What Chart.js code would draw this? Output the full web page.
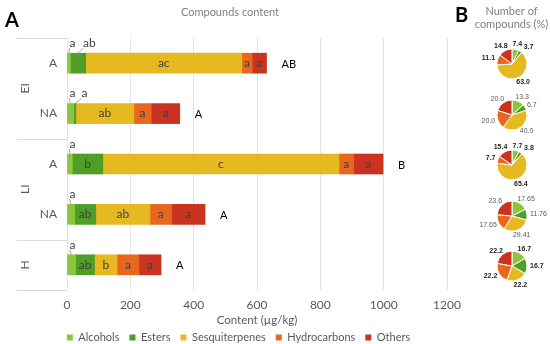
<!DOCTYPE html>
<html>
<head>
<meta charset="utf-8">
<script src="https://cdn.jsdelivr.net/npm/chart.js@4.4.1/dist/chart.umd.min.js"></script>
<style>
  html, body { margin: 0; padding: 0; background: #fff; }
  body { width: 550px; height: 344px; overflow: hidden; position: relative; }
  #main { position: absolute; left: 0; top: 0; }
  .pie { position: absolute; }
</style>
</head>
<body>
<canvas id="main" width="550" height="353"></canvas>
<script>
// データ（μg/kg）
const samples = ['EI A', 'EI NA', 'LI A', 'LI NA', 'H'];
const subLabels = ['A', 'NA', 'A', 'NA', ''];
const groups = ['EI', 'LI', 'H'];
const groupFirst = [0, 2, 4];
const groupLast = [1, 3, 4];
const compoundNames = ['Alcohols', 'Esters', 'Sesquiterpenes', 'Hydrocarbons', 'Others'];
const compoundColors = ['#8cc63e', '#4f9e27', '#e7b921', '#e8671c', '#c9331f'];

const alcohols = [11, 21, 17, 24, 27];
const esters = [48, 7, 96, 67, 60];
const sesquiterpenes = [493, 183, 746, 171, 71];
const hydrocarbons = [33, 55, 46, 68, 69];
const others = [45, 90, 93, 106, 70];

// 有意差の文字
const alcoholLetters = ['a', 'a', 'a', 'a', 'a'];
const esterLetters = ['ab', 'a', 'b', 'ab', 'ab'];
const sesqLetters = ['ac', 'ab', 'c', 'ab', 'b'];
const hydroLetters = ['a', 'a', 'a', 'a', 'a'];
const otherLetters = ['a', 'a', 'a', 'a', 'a'];
const totalLetters = ['AB', 'A', 'B', 'A', 'A'];

// 化合物数（%）
const pieEIA = ['7.4', '3.7', '63.0', '11.1', '14.8'];
const pieEINA = ['13.3', '6.7', '40.0', '20.0', '20.0'];
const pieLIA = ['7.7', '3.8', '65.4', '7.7', '15.4'];
const pieLINA = ['17.65', '11.76', '29.41', '17.65', '23.6'];
const pieH = ['16.7', '16.7', '22.2', '22.2', '22.2'];
const pieBold = [true, false, true, false, true];

const series = [alcohols, esters, sesquiterpenes, hydrocarbons, others];
const letterSets = [alcoholLetters, esterLetters, sesqLetters, hydroLetters, otherLetters];

const FONT = 'Lato, "Open Sans", sans-serif';
Chart.defaults.font.family = FONT;
Chart.defaults.font.size = 11;

// 文字・区切り線などの描画
const decor = {
  id: 'decor',
  afterDatasetsDraw(chart) {
    const ctx = chart.ctx;
    const area = chart.chartArea;
    const yScale = chart.scales.y;
    ctx.save();

    // タイトル類
    ctx.textBaseline = 'middle';
    ctx.fillStyle = '#000';
    ctx.font = 'bold 20px ' + FONT;
    ctx.textAlign = 'left';
    ctx.fillText('A', 5, 21);
    ctx.fillText('B', 455, 16);
    ctx.fillStyle = '#808080';
    ctx.font = '11px ' + FONT;
    ctx.textAlign = 'center';
    ctx.fillText('Compounds content', 230, 12);
    ctx.fillText('Number of', 511.5, 11);
    ctx.fillText('compounds (%)', 511.5, 24);

    // グループ区切り線
    ctx.strokeStyle = '#d9d9d9';
    ctx.lineWidth = 1;
    const edges = [area.top];
    groupLast.forEach((last, g) => {
      if (g < groupLast.length - 1) {
        edges.push((yScale.getPixelForValue(last) + yScale.getPixelForValue(last + 1)) / 2);
      }
    });
    edges.push(area.bottom);
    edges.forEach(e => {
      ctx.beginPath();
      ctx.moveTo(17, Math.round(e) + 0.5);
      ctx.lineTo(area.left, Math.round(e) + 0.5);
      ctx.stroke();
    });

    // グループ名（縦書き）とサブラベル
    ctx.fillStyle = '#595959';
    ctx.font = '12px ' + FONT;
    groups.forEach((g, k) => {
      const cy = (yScale.getPixelForValue(groupFirst[k]) + yScale.getPixelForValue(groupLast[k])) / 2;
      ctx.save();
      ctx.translate(25, cy);
      ctx.rotate(-Math.PI / 2);
      ctx.textAlign = 'center';
      ctx.fillText(g, 0, 0);
      ctx.restore();
    });
    ctx.textAlign = 'right';
    subLabels.forEach((s, i) => {
      ctx.fillText(s, area.left - 10, yScale.getPixelForValue(i));
    });

    // セグメントの文字（アルコール・エステルの細いものは上に出す）
    for (let i = 0; i < samples.length; i++) {
      let nextLeft = null;
      let end = 0;
      ctx.font = '12px ' + FONT;
      letterSets.forEach((letters, d) => {
        const bar = chart.getDatasetMeta(d).data[i];
        const left = Math.min(bar.x, bar.base);
        const right = Math.max(bar.x, bar.base);
        const top = bar.y - bar.height / 2;
        const mid = (left + right) / 2;
        end = Math.max(end, right);
        if (d > 1 || right - left >= 16) {
          ctx.fillStyle = '#404040';
          ctx.textAlign = 'center';
          ctx.fillText(letters[i], mid, bar.y);
        } else {
          const tw = ctx.measureText(letters[i]).width;
          const lx = nextLeft === null ? left + 2 : Math.max(nextLeft, mid + 5);
          nextLeft = lx + tw + 6;
          ctx.strokeStyle = '#a6a6a6';
          ctx.beginPath();
          ctx.moveTo(mid, top);
          ctx.lineTo(lx, top - 5);
          ctx.stroke();
          ctx.fillStyle = '#404040';
          ctx.textAlign = 'left';
          ctx.fillText(letters[i], lx, top - 10);
        }
      });
      ctx.fillStyle = '#000';
      ctx.textAlign = 'left';
      ctx.font = '11px ' + FONT;
      ctx.fillText(totalLetters[i], end + 15, yScale.getPixelForValue(i) + 1);
    }
    ctx.restore();
  }
};

new Chart(document.getElementById('main'), {
  type: 'bar',
  data: {
    labels: samples,
    datasets: compoundNames.map((name, d) => ({
      label: name,
      data: series[d],
      backgroundColor: compoundColors[d],
      borderWidth: 0,
      barThickness: 20
    }))
  },
  options: {
    indexAxis: 'y',
    responsive: false,
    animation: false,
    layout: { padding: { left: 30, right: 103, top: 38, bottom: 0 } },
    scales: {
      x: {
        stacked: true,
        min: 0,
        max: 1200,
        ticks: { stepSize: 200, color: '#595959', padding: 8, font: { size: 12 }, callback: v => String(v) },
        grid: { color: '#e4e4e4', drawTicks: false },
        border: { display: false },
        title: { display: true, text: 'Content (µg/kg)', color: '#595959', font: { size: 11.5 }, padding: { top: 0, bottom: -5 } },
        afterFit(scale) { scale.height = 32; }
      },
      y: {
        stacked: true,
        ticks: { display: false },
        grid: { display: false },
        border: { display: false },
        afterFit(scale) { scale.width = 37; }
      }
    },
    plugins: {
      legend: {
        position: 'bottom',
        labels: { boxWidth: 6, boxHeight: 6, color: '#595959', font: { size: 11 }, padding: 10 }
      },
      tooltip: { enabled: false }
    }
  },
  plugins: [decor]
});

// 円グラフのラベル（重なったら外側へずらす）
const pieLabelPlugin = {
  id: 'pieLabels',
  afterDatasetsDraw(chart) {
    const ctx = chart.ctx;
    const ds = chart.data.datasets[0];
    const meta = chart.getDatasetMeta(0);
    const placed = [];
    const th = 7;
    ctx.save();
    ctx.font = (ds.bold ? 'bold ' : '') + '7px "Liberation Sans Narrow", "Liberation Sans", sans-serif';
    ctx.fillStyle = ds.bold ? '#262626' : '#595959';
    ctx.textAlign = 'center';
    ctx.textBaseline = 'middle';
    meta.data.forEach((arc, k) => {
      const a = (arc.startAngle + arc.endAngle) / 2;
      const r = arc.outerRadius + 2;
      const tw = ctx.measureText(ds.texts[k]).width;
      let x = arc.x + Math.cos(a) * r + Math.cos(a) * (tw / 2 + 1);
      let y = arc.y + Math.sin(a) * r + Math.sin(a) * 3;
      const dir = Math.cos(a) >= 0 ? 1 : -1;
      const hit = () => placed.some(p =>
        Math.abs(p.x - x) < (p.w + tw) / 2 + 1 && Math.abs(p.y - y) < th);
      let guard = 0;
      while (hit() && guard < 30) {
        x += dir;
        guard++;
      }
      placed.push({ x, y, w: tw });
      ctx.fillText(ds.texts[k], x, y);
    });
    ctx.restore();
  }
};

[pieEIA, pieEINA, pieLIA, pieLINA, pieH].forEach((texts, i) => {
  const c = document.createElement('canvas');
  c.className = 'pie';
  c.width = 100;
  c.height = 56;
  c.style.left = '462px';
  c.style.top = (36 + i * 50.5) + 'px';
  document.body.appendChild(c);
  new Chart(c, {
    type: 'pie',
    data: {
      labels: compoundNames,
      datasets: [{
        data: texts.map(Number),
        texts: texts,
        bold: pieBold[i],
        backgroundColor: compoundColors,
        borderColor: '#fff',
        borderWidth: 1
      }]
    },
    options: {
      responsive: false,
      animation: false,
      layout: { padding: { top: 12.5, bottom: 12.5, left: 34.5, right: 34.5 } },
      plugins: { legend: { display: false }, tooltip: { enabled: false } }
    },
    plugins: [pieLabelPlugin]
  });
});
</script>
</body>
</html>
